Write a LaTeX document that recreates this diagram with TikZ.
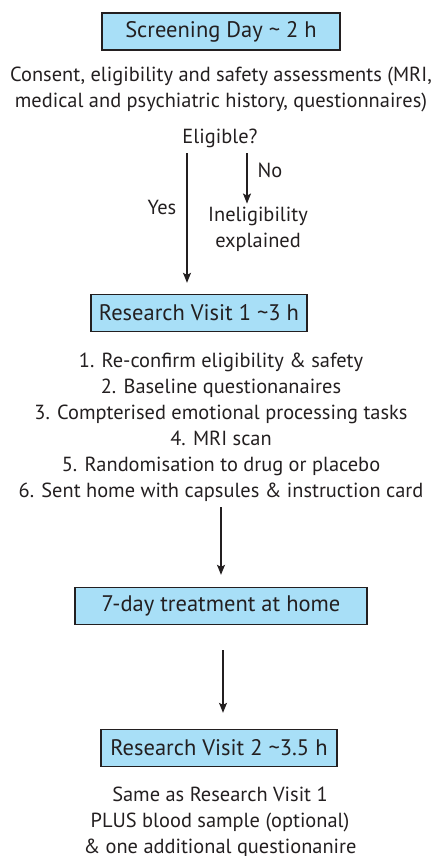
\documentclass[tikz,border=0pt]{standalone}
\usepackage{fontspec}
\setmainfont{PT Sans}
\usetikzlibrary{arrows.meta,calc}
\definecolor{boxblue}{RGB}{168,223,247}
\definecolor{ink}{RGB}{35,31,32}
\begin{document}
\begin{tikzpicture}[x=1pt,y=1pt,
  every node/.style={text=ink,font=\fontsize{20.4}{26}\selectfont,inner sep=0pt},
  stagebox/.style={draw=ink,line width=1.4pt,fill=boxblue,minimum height=37pt,font=\fontsize{22.5}{26}\selectfont},
  arr/.style={draw=ink,line width=1.1pt,-{Stealth[length=10pt,width=8pt,inset=2pt]}},
  txt/.style={align=center}]
\useasboundingbox (0,0) rectangle (438,-856);
\node[stagebox,minimum width=238pt] (b1) at (221,-31.5) {Screening Day \textasciitilde{} 2 h};
\node[txt] (consent) at (221,-89) {Consent, eligibility and safety assessments (MRI,\\medical and psychiatric history, questionnaires)};
\node (elig) at (220,-138) {Eligible?};
\coordinate (ys) at (187,-153);
\coordinate (ns) at (247,-153);
\node (yes) at (162,-207) {Yes};
\node (no) at (270,-170) {No};
\node[txt] (inel) at (258,-229) {Ineligibility\\explained};
\node[stagebox,minimum width=216pt] (b2) at (199,-313) {Research Visit 1 \textasciitilde3 h};
\node[txt] (list) at (221,-427.5) {1. Re-confirm eligibility \& safety\\2. Baseline questionanaires\\3. Compterised emotional processing tasks\\4. MRI scan\\5. Randomisation to drug or placebo\\6. Sent home with capsules \& instruction card};
\node[stagebox,minimum width=292pt] (b3) at (221,-606) {7-day treatment at home};
\node[stagebox,minimum width=236pt] (b4) at (219,-748) {Research Visit 2 \textasciitilde3.5 h};
\node[txt] (final) at (220,-822.5) {Same as Research Visit 1\\PLUS blood sample (optional)\\\& one additional questionanire};
\draw[arr] (ys) -- ($(b2.north -| ys)+(0,11)$);
\draw[arr] (ns) -- ($(inel.north -| ns)+(0,3)$);
\draw[arr] ($(list.south -| b3.north)+(0,-5)$) -- ($(b3.north)+(0,12)$);
\draw[arr] ($(b3.south)+(2,-25)$) -- ($(b4.north)+(4,16)$);
\end{tikzpicture}
\end{document}
